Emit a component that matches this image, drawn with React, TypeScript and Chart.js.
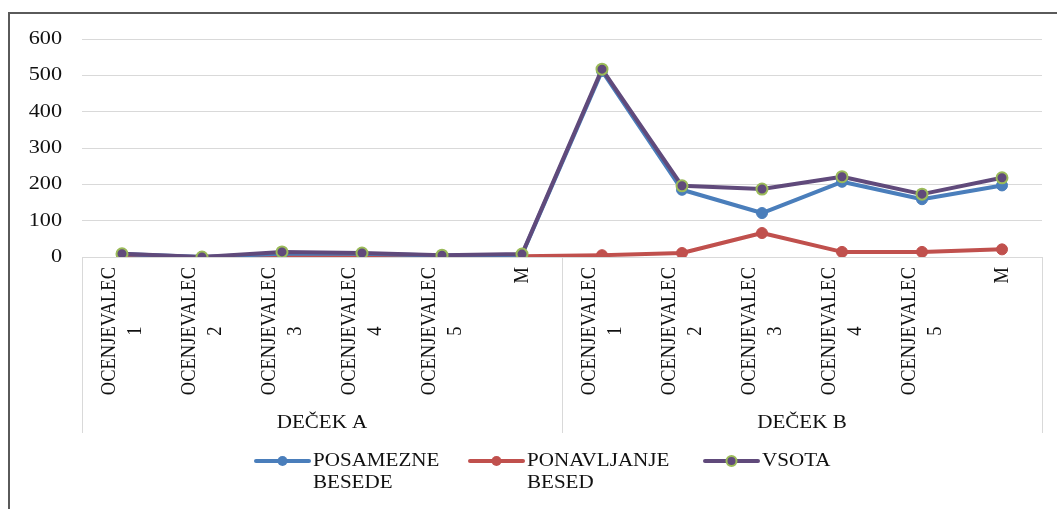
import React, { useEffect, useRef } from 'react';
import { Chart, registerables } from 'chart.js';

Chart.register(...registerables);

// Categories: two boys, each rated by five raters plus the mean (M)
const GROUPS = ['DEČEK A', 'DEČEK B'];
const RATERS = [
  ['OCENJEVALEC', '1'],
  ['OCENJEVALEC', '2'],
  ['OCENJEVALEC', '3'],
  ['OCENJEVALEC', '4'],
  ['OCENJEVALEC', '5'],
  ['M'],
];

// Series values, group A then group B
const POSAMEZNE = [8, 0, 9, 9, 4, 6, 512, 185, 121, 207, 159, 197];
const PONAVLJANJE = [1, 0, 5, 2, 1, 2, 5, 11, 66, 14, 14, 21];
const VSOTA = [9, 0, 14, 11, 5, 8, 517, 196, 187, 221, 173, 218];

const Y_MAX = 600;
const Y_STEP = 100;

const SERIF = "'Liberation Serif', 'Times New Roman', serif";
const STRETCH = 1.17;
const BLUE = '#4A7EBB';
const RED = '#C0504D';
const PURPLE = '#604A7B';
const GREEN = '#9BBB59';
const GRID = '#d9d9d9';
const TEXT = '#111111';

const labels = GROUPS.flatMap(() => RATERS.map((r) => [...r]));

// Horizontally widened text, as in the original Office export
function wideText(
  ctx: CanvasRenderingContext2D,
  text: string,
  x: number,
  y: number,
  align: CanvasTextAlign
) {
  ctx.save();
  ctx.translate(x, y);
  ctx.scale(STRETCH, 1);
  ctx.textAlign = align;
  ctx.textBaseline = 'middle';
  ctx.fillText(text, 0, 0);
  ctx.restore();
}

const decorations = {
  id: 'decorations',
  beforeDraw(chart: any) {
    const { ctx, width, height } = chart;
    ctx.save();
    ctx.fillStyle = '#ffffff';
    ctx.fillRect(0, 0, width, height);
    // outer frame (top and left edges)
    ctx.fillStyle = '#5a5a5a';
    ctx.fillRect(8, 12, width - 8, 2);
    ctx.fillRect(8, 12, 2, height - 12);
    ctx.restore();
  },
  afterDraw(chart: any) {
    const { ctx, chartArea } = chart;
    const xs = chart.scales.x;
    const ys = chart.scales.y;
    const bottom = chartArea.bottom;
    ctx.save();
    ctx.fillStyle = TEXT;

    // value axis labels
    ctx.font = `19px ${SERIF}`;
    ys.ticks.forEach((t: any) => {
      wideText(ctx, String(t.value), chartArea.left - 20, ys.getPixelForValue(t.value), 'right');
    });

    // group separators below the axis
    const per = RATERS.length;
    const seps: number[] = [xs.left];
    for (let g = 1; g < GROUPS.length; g++) {
      seps.push((xs.getPixelForValue(g * per - 1) + xs.getPixelForValue(g * per)) / 2);
    }
    seps.push(xs.right);
    ctx.strokeStyle = GRID;
    ctx.lineWidth = 1;
    seps.forEach((sx) => {
      const px = Math.round(sx) + 0.5;
      ctx.beginPath();
      ctx.moveTo(px, bottom);
      ctx.lineTo(px, bottom + 176);
      ctx.stroke();
    });

    // rotated rater labels
    ctx.font = `18.5px ${SERIF}`;
    (chart.data.labels as string[][]).forEach((lines, i) => {
      const px = xs.getPixelForValue(i);
      ctx.save();
      ctx.translate(px, bottom + 10);
      ctx.rotate(-Math.PI / 2);
      ctx.scale(1, STRETCH);
      const w = Math.max(...lines.map((l) => ctx.measureText(l).width));
      ctx.textAlign = 'center';
      ctx.textBaseline = 'middle';
      lines.forEach((l, j) => {
        ctx.fillText(l, -w / 2, (j - (lines.length - 1) / 2) * 22);
      });
      ctx.restore();
    });

    // group labels
    ctx.font = `18px ${SERIF}`;
    GROUPS.forEach((g, gi) => {
      const cx = (seps[gi] + seps[gi + 1]) / 2;
      wideText(ctx, g, cx, bottom + 166, 'center');
    });

    // legend
    const legendX = [256, 470, 705];
    const legendY = 461;
    chart.data.datasets.forEach((ds: any, i: number) => {
      const x0 = legendX[i];
      const x1 = x0 + 53;
      ctx.strokeStyle = ds.borderColor;
      ctx.lineWidth = 4;
      ctx.lineCap = 'round';
      ctx.beginPath();
      ctx.moveTo(x0, legendY);
      ctx.lineTo(x1, legendY);
      ctx.stroke();
      ctx.beginPath();
      ctx.arc((x0 + x1) / 2, legendY, 5, 0, Math.PI * 2);
      ctx.fillStyle = ds.pointBackgroundColor;
      ctx.fill();
      if (ds.pointBorderColor !== ds.pointBackgroundColor) {
        ctx.lineWidth = 2;
        ctx.strokeStyle = ds.pointBorderColor;
        ctx.stroke();
      }
      ctx.fillStyle = TEXT;
      ctx.font = `18px ${SERIF}`;
      String(ds.label)
        .split(' ')
        .forEach((line, j) => wideText(ctx, line, x1 + 4, legendY + j * 22, 'left'));
    });

    ctx.restore();
  },
};

export default function App() {
  const canvasRef = useRef<HTMLCanvasElement | null>(null);

  useEffect(() => {
    if (!canvasRef.current) return;
    const line = (label: string, data: number[], color: string, order: number, border?: string) => ({
      label,
      data,
      order,
      borderColor: color,
      backgroundColor: color,
      borderWidth: 4,
      borderJoinStyle: 'round' as const,
      borderCapStyle: 'round' as const,
      tension: 0,
      pointRadius: 5.5,
      pointBorderWidth: border ? 2 : 1,
      pointBackgroundColor: color,
      pointBorderColor: border ?? color,
    });

    const chart = new Chart(canvasRef.current, {
      type: 'line',
      data: {
        labels,
        datasets: [
          line('POSAMEZNE BESEDE', POSAMEZNE, BLUE, 1),
          line('PONAVLJANJE BESED', PONAVLJANJE, RED, 2),
          line('VSOTA', VSOTA, PURPLE, 0, GREEN),
        ],
      },
      options: {
        animation: false,
        responsive: false,
        events: [],
        layout: { padding: { top: 39, right: 15, left: 0, bottom: 0 } },
        plugins: {
          legend: { display: false },
          tooltip: { enabled: false },
        },
        scales: {
          x: {
            type: 'category',
            offset: true,
            grid: { display: false },
            border: { display: false },
            ticks: { display: false },
            afterFit: (scale: any) => {
              scale.height = 252;
            },
          },
          y: {
            min: 0,
            max: Y_MAX,
            ticks: { display: false, stepSize: Y_STEP },
            grid: { color: GRID, lineWidth: 1, drawTicks: false },
            border: { display: false },
            afterFit: (scale: any) => {
              scale.width = 82;
            },
          },
        },
      },
      plugins: [decorations],
    });
    return () => chart.destroy();
  }, []);

  return (
    <div style={{ position: 'fixed', left: 0, top: 0, width: 1057, height: 509, background: '#fff' }}>
      <canvas ref={canvasRef} width={1057} height={509} style={{ display: 'block' }} />
    </div>
  );
}
